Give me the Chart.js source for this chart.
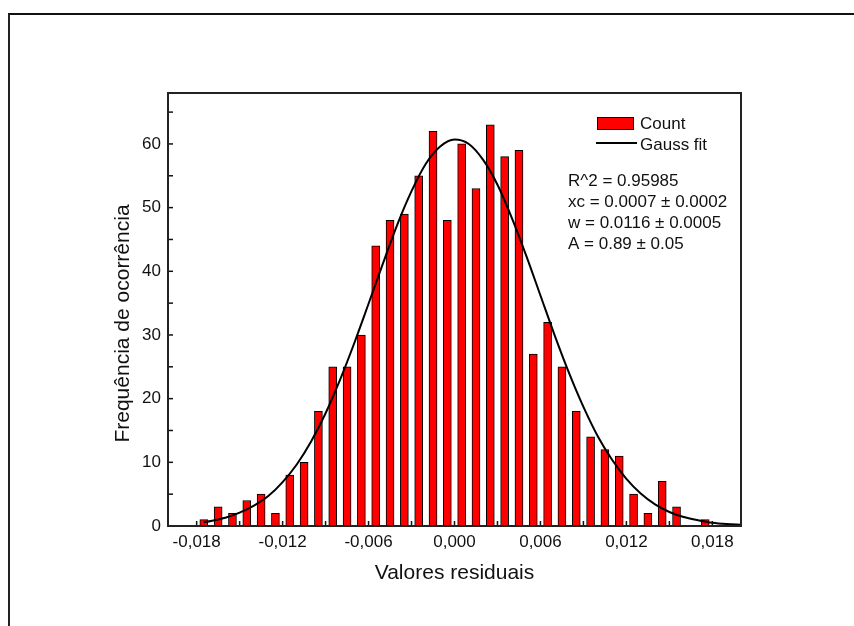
<!DOCTYPE html>
<html>
<head>
<meta charset="utf-8">
<script src="https://cdn.jsdelivr.net/npm/chart.js@4/dist/chart.umd.min.js"></script>
<style>
  html, body { margin: 0; padding: 0; background: #fff; }
  #page { position: relative; width: 854px; height: 626px; overflow: hidden; }
  #frame { position: absolute; left: 8px; top: 13px; right: 0; bottom: 0;
           border-top: 2px solid #111; border-left: 2px solid #222; }
  #residuos { position: absolute; left: 0; top: 0; }
</style>
</head>
<body>
<div id="page">
  <div id="frame"></div>
  <canvas id="residuos" width="854" height="626"></canvas>
</div>
<script>
// histogram of the residuals (bin centres and counts)
const binCenters = [
  -0.0175, -0.0165, -0.0155, -0.0145, -0.0135, -0.0125, -0.0115, -0.0105, -0.0095,
  -0.0085, -0.0075, -0.0065, -0.0055, -0.0045, -0.0035, -0.0025, -0.0015, -0.0005,
   0.0005,  0.0015,  0.0025,  0.0035,  0.0045,  0.0055,  0.0065,  0.0075,  0.0085,
   0.0095,  0.0105,  0.0115,  0.0125,  0.0135,  0.0145,  0.0155,  0.0165,  0.0175
];
const counts = [
  1, 3, 2, 4, 5, 2, 8, 10, 18,
  25, 25, 30, 44, 48, 49, 55, 62, 48,
  60, 53, 63, 58, 59, 27, 32, 25, 18,
  14, 12, 11, 5, 2, 7, 3, 0, 1
];

// gauss fit curve
const fitX = [
  -0.0175, -0.017, -0.016, -0.015, -0.014, -0.013, -0.012, -0.011, -0.010, -0.009,
  -0.008, -0.007, -0.006, -0.005, -0.004, -0.003, -0.002, -0.001, 0.000,
  0.001, 0.002, 0.003, 0.004, 0.005, 0.006, 0.007, 0.008, 0.009, 0.010,
  0.011, 0.012, 0.013, 0.014, 0.015, 0.016, 0.017, 0.018, 0.019, 0.020
];
const fitY = [
  0.6, 0.8, 1.3, 2.1, 3.2, 4.7, 6.9, 9.7, 13.3, 17.7,
  22.9, 28.7, 34.9, 41.2, 47.3, 52.6, 56.9, 59.6, 60.7,
  60.0, 57.5, 53.6, 48.4, 42.5, 36.2, 29.9, 24.0, 18.7, 14.1,
  10.4, 7.4, 5.1, 3.4, 2.2, 1.4, 0.9, 0.5, 0.3, 0.2
];

// axis ticks
const xTickValues = [-0.018, -0.012, -0.006, 0, 0.006, 0.012, 0.018];
const xTickMarks = [-0.018, -0.015, -0.012, -0.009, -0.006, -0.003, 0, 0.003, 0.006, 0.009, 0.012, 0.015, 0.018];
const yTickValues = [0, 10, 20, 30, 40, 50, 60];
const yTickMarks = [0, 5, 10, 15, 20, 25, 30, 35, 40, 45, 50, 55, 60, 65];

const fitStats = [
  'R^2 = 0.95985',
  'xc = 0.0007 \u00b1 0.0002',
  'w = 0.0116 \u00b1 0.0005',
  'A = 0.89 \u00b1 0.05'
];

const FONT = 'Arial, "Liberation Sans", sans-serif';
const INK = '#111';

// inward ticks, frame, legend box, fit parameters and axis titles
const originStyle = {
  id: 'originStyle',
  afterDatasetsDraw(chart) {
    const { ctx, chartArea: a, scales: { x, y } } = chart;
    ctx.save();
    ctx.strokeStyle = INK;
    ctx.lineWidth = 1.5;
    yTickMarks.forEach(v => {
      const py = y.getPixelForValue(v);
      ctx.beginPath(); ctx.moveTo(a.left, py); ctx.lineTo(a.left + 5, py); ctx.stroke();
    });
    xTickMarks.forEach(v => {
      const px = x.getPixelForValue(v);
      ctx.beginPath(); ctx.moveTo(px, a.bottom); ctx.lineTo(px, a.bottom - 5); ctx.stroke();
    });

    ctx.lineWidth = 2;
    ctx.strokeStyle = '#222';
    ctx.strokeRect(a.left, a.top, a.right - a.left, a.bottom - a.top);

    // legend
    const lx = a.right - 144;
    ctx.fillStyle = '#ff0000';
    ctx.fillRect(lx, a.top + 24, 37, 13);
    ctx.lineWidth = 1;
    ctx.strokeStyle = '#000';
    ctx.strokeRect(lx + 0.5, a.top + 24.5, 36, 12);
    ctx.lineWidth = 2;
    ctx.beginPath(); ctx.moveTo(lx - 1, a.top + 50); ctx.lineTo(lx + 40, a.top + 50); ctx.stroke();

    ctx.fillStyle = INK;
    ctx.font = '17px ' + FONT;
    ctx.textAlign = 'left';
    ctx.textBaseline = 'middle';
    ctx.fillText('Count', lx + 43, a.top + 31);
    ctx.fillText('Gauss fit', lx + 43, a.top + 52);
    fitStats.forEach((s, i) => ctx.fillText(s, a.right - 173, a.top + 88 + i * 21));

    // axis titles
    ctx.font = '21px ' + FONT;
    ctx.textAlign = 'center';
    ctx.fillText('Valores residuais', (a.left + a.right) / 2, a.bottom + 47);
    ctx.translate(a.left - 45, (a.top + a.bottom) / 2 + 14);
    ctx.rotate(-Math.PI / 2);
    ctx.fillText('Frequ\u00eancia de ocorr\u00eancia', 0, 0);
    ctx.restore();
  }
};

new Chart(document.getElementById('residuos'), {
  type: 'bar',
  data: {
    datasets: [
      {
        type: 'line',
        label: 'Gauss fit',
        data: fitX.map((v, i) => ({ x: v, y: fitY[i] })),
        borderColor: '#000',
        borderWidth: 2,
        pointRadius: 0,
        cubicInterpolationMode: 'monotone',
        fill: false,
        order: 0
      },
      {
        label: 'Count',
        data: binCenters.map((v, i) => ({ x: v, y: counts[i] })),
        backgroundColor: '#ff0000',
        borderColor: '#000',
        borderWidth: 1,
        barThickness: 8,
        order: 1
      }
    ]
  },
  options: {
    responsive: false,
    animation: false,
    layout: { padding: { left: 0, top: 93, right: 113, bottom: 70 } },
    plugins: { legend: { display: false }, tooltip: { enabled: false } },
    scales: {
      x: {
        type: 'linear',
        min: -0.02,
        max: 0.02,
        offset: false,
        grid: { display: false, drawTicks: false, offset: false },
        border: { display: false },
        afterBuildTicks: s => { s.ticks = xTickValues.map(v => ({ value: v })); },
        afterFit: s => { s.height = 30; },
        ticks: {
          padding: 6,
          maxRotation: 0,
          autoSkip: false,
          color: INK,
          font: { family: FONT, size: 17 },
          callback: v => (Math.abs(v) < 1e-9 ? 0 : v).toFixed(3).replace('.', ',')
        }
      },
      y: {
        min: 0,
        max: 68,
        grid: { display: false, drawTicks: false },
        border: { display: false },
        afterBuildTicks: s => { s.ticks = yTickValues.map(v => ({ value: v })); },
        afterFit: s => { s.width = 168; },
        ticks: {
          padding: 7,
          color: INK,
          font: { family: FONT, size: 17 }
        }
      }
    }
  },
  plugins: [originStyle]
});
</script>
</body>
</html>
